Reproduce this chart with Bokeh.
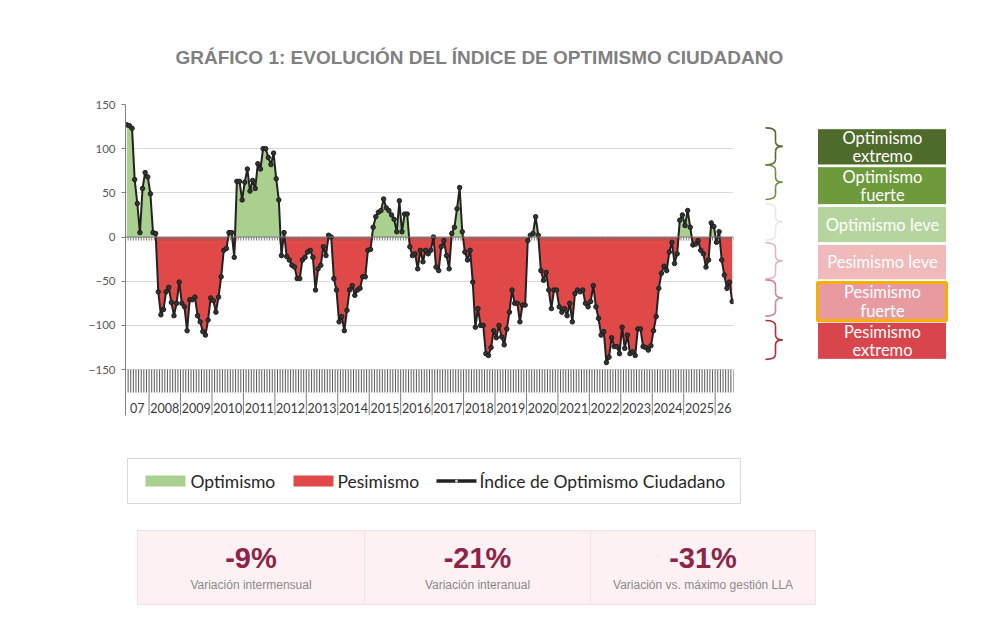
import numpy as np
from bokeh.plotting import figure
from bokeh.layouts import column, row
from bokeh.models import Range1d, FixedTicker, Span
from bokeh.core.properties import value
from bokeh.embed import file_html
from bokeh.resources import INLINE

# ---- Monthly citizen optimism index (Apr 2007 - Jul 2026) ----
idx_2007 = [127, 126, 123, 65, 38, 5, 55, 73, 68]          # Apr-Dec
idx_2008 = [49, 5, 4, -62, -88, -82, -62, -57, -74, -89, -75, -51]
idx_2009 = [-75, -79, -106, -71, -71, -68, -89, -96, -107, -111, -94, -69]
idx_2010 = [-72, -85, -68, -45, -15, -13, 5, 5, -23, 63, 63, 42]
idx_2011 = [62, 77, 52, 64, 55, 83, 77, 100, 100, 90, 82, 95]
idx_2012 = [66, 42, -21, 5, -22, -26, -32, -34, -47, -47, -26, -23]
idx_2013 = [-17, -15, -23, -60, -36, -32, -11, -21, 2, 0, -47, -60]
idx_2014 = [-96, -90, -106, -83, -60, -55, -66, -60, -58, -45, -45, -15]
idx_2015 = [-14, 11, 23, 28, 30, 43, 33, 30, 25, 20, 6, 41]
idx_2016 = [6, 26, 26, -11, -21, -19, -36, -15, -28, -15, -19, -15]
idx_2017 = [0, -34, -38, -11, -4, -21, -36, 4, 11, 32, 56, 6]
idx_2018 = [-17, -26, -15, -51, -102, -81, -100, -100, -132, -134, -125, -106]
idx_2019 = [-114, -100, -113, -122, -104, -85, -60, -75, -75, -96, -77, -77]
idx_2020 = [-4, 2, 4, 23, 2, -38, -49, -40, -60, -81, -60, -60]
idx_2021 = [-79, -85, -81, -89, -75, -96, -64, -60, -62, -60, -75, -79]
idx_2022 = [-73, -55, -79, -92, -111, -107, -142, -136, -114, -124, -124, -132]
idx_2023 = [-102, -126, -111, -132, -130, -134, -104, -104, -124, -125, -128, -123]
idx_2024 = [-106, -90, -58, -41, -33, -38, -17, -6, -30, -19, 19, 25]
idx_2025 = [13, 30, 11, -9, -8, -4, -15, -19, -34, -26, 16, 12]
idx_2026 = [-6, 6, -26, -43, -58, -51, -73]                # Jan-Jul

year_labels = ["07", "2008", "2009", "2010", "2011", "2012", "2013", "2014",
               "2015", "2016", "2017", "2018", "2019", "2020", "2021", "2022",
               "2023", "2024", "2025", "26"]
yearly = [idx_2007, idx_2008, idx_2009, idx_2010, idx_2011, idx_2012, idx_2013,
          idx_2014, idx_2015, idx_2016, idx_2017, idx_2018, idx_2019, idx_2020,
          idx_2021, idx_2022, idx_2023, idx_2024, idx_2025, idx_2026]

y_ticks = [-150, -100, -50, 0, 50, 100, 150]

scale_names = [["Optimismo", "extremo"], ["Optimismo", "fuerte"], ["Optimismo leve"],
               ["Pesimismo leve"], ["Pesimismo", "fuerte"], ["Pesimismo", "extremo"]]

kpi_values = ["-9%", "-21%", "-31%"]
kpi_labels = ["Variación intermensual", "Variación interanual",
              "Variación vs. máximo gestión LLA"]

title_text = "GRÁFICO 1: EVOLUCIÓN DEL ÍNDICE DE OPTIMISMO CIUDADANO"

# ---- derived series ----
vals = np.array([v for yr in yearly for v in yr], dtype=float)
n = len(vals)
xc = np.arange(n) + 0.5
counts = [len(yr) for yr in yearly]
edges = np.cumsum([0] + counts)
centers = (edges[:-1] + edges[1:]) / 2.0
month_edges = np.arange(n + 1)

GREEN = "#a9d08e"
RED = "#e14848"
CAL = value("Lato")


def blank(w, h, ymax):
    f = figure(width=w, height=h, x_range=Range1d(0, w), y_range=Range1d(ymax, 0),
               toolbar_location=None, output_backend="svg",
               x_axis_location=None, y_axis_location=None,
               min_border=0, outline_line_color=None)
    f.grid.visible = False
    return f


# ---- title strip ----
top = blank(1001, 80, 80)
top.text(x=[479], y=[57], text=[title_text], text_font=value("Liberation Sans"),
         text_font_style="bold", text_font_size="19px", text_color="#808080",
         text_align="center", text_baseline="middle")

# ---- main chart ----
p = figure(width=745, height=360, x_range=Range1d(0, n), y_range=Range1d(-202, 150),
           toolbar_location=None, output_backend="svg", x_axis_location=None,
           min_border_left=125, min_border_right=12, min_border_top=24,
           min_border_bottom=25, outline_line_color=None)
p.xgrid.visible = False
p.yaxis.ticker = FixedTicker(ticks=y_ticks)
p.ygrid.ticker = FixedTicker(ticks=y_ticks)
p.ygrid.grid_line_color = "#d9d9d9"
p.yaxis.axis_line_color = "#7f7f7f"
p.yaxis.major_tick_line_color = "#7f7f7f"
p.yaxis.major_tick_out = 4
p.yaxis.major_tick_in = 0
p.yaxis.minor_tick_line_color = None
p.yaxis.major_label_text_font = "Lato"
p.yaxis.major_label_text_font_size = "11.5px"
p.yaxis.major_label_text_color = "#595959"
p.yaxis.major_label_standoff = 6

p.varea(x=xc, y1=0, y2=np.maximum(vals, 0), fill_color=GREEN)
p.varea(x=xc, y1=0, y2=np.minimum(vals, 0), fill_color=RED)

# category axis crossing at zero, with a tick between months
p.add_layout(Span(location=0, dimension="width", line_color="#7f7f7f", line_width=1))
p.segment(x0=month_edges, y0=0, x1=month_edges, y1=-4,
          line_color="#6a6a6a", line_alpha=0.85, line_width=1)

# month tick band and year label row below the plot
p.segment(x0=month_edges, y0=-150, x1=month_edges, y1=-176,
          line_color="#5a5a5a", line_width=1)
p.segment(x0=edges[1:-1], y0=-176, x1=edges[1:-1], y1=-202,
          line_color="#7f7f7f", line_width=1)
p.text(x=centers, y=-193.5, text=year_labels, text_font=CAL, text_font_size="12.5px",
       text_color="#3a3a3a", text_align="center", text_baseline="middle")

p.line(xc, vals, line_color="#222222", line_width=2)
p.scatter(xc, vals, size=4.5, fill_color="#333333", line_color="#1e1e1e", line_width=1)

# ---- scale boxes with braces ----
side = blank(256, 360, 360)
box_tops = [28, 72, 118, 162, 206, 252]
box_bots = [70, 116, 160, 203, 250, 295]
box_cols = ["#4f6b2c", "#6e9a3c", "#b6d59e", "#f0b9ba", "#e79ba0", "#d8454c"]
side.quad(left=72, right=201, top=box_tops, bottom=box_bots, fill_color=box_cols,
          line_color="white", line_width=1)
# highlight on the current category
side.quad(left=[72], right=[201], top=[206], bottom=[250], fill_color=None,
          line_color="#f5b000", line_width=3)
for name, t, b in zip(scale_names, box_tops, box_bots):
    mid = (t + b) / 2.0
    if len(name) == 1:
        ys = [mid]
    else:
        ys = [mid - 10.5, mid + 10.5]
    side.text(x=[137] * len(name), y=ys, text=name, text_font=CAL,
              text_font_size="16.5px", text_color="white", text_align="center",
              text_baseline="middle")

brace_spans = [(27, 70), (70, 110), (115, 157), (160, 202), (203, 245), (250, 295)]
brace_cols = ["#556a2c", "#6f8e3e", "#e6ebdc", "#e2b6bc", "#c98892", "#a8303a"]
bx0, bx1, bx2, r = 20, 30, 37, 6
for (yt, yb), c in zip(brace_spans, brace_cols):
    ym = (yt + yb) / 2.0
    side.quadratic(x0=[bx0, bx1, bx2, bx1], y0=[yt, ym - r, ym, yb - r],
                   x1=[bx1, bx2, bx1, bx0], y1=[yt + r, ym, ym + r, yb],
                   cx=[bx1, bx1, bx1, bx1], cy=[yt, ym, ym, yb],
                   line_color=c, line_width=1.6)
    side.segment(x0=[bx1, bx1], y0=[yt + r, ym + r], x1=[bx1, bx1], y1=[ym - r, yb - r],
                 line_color=c, line_width=1.6)

# ---- legend and indicator cards ----
bot = blank(1001, 181, 181)
bot.quad(left=[127], right=[740], top=[18], bottom=[63], fill_color="white",
         line_color="#d9d9d9", line_width=1)
bot.quad(left=[145, 293], right=[185, 333], top=[35, 35], bottom=[46, 46],
         fill_color=[GREEN, RED], line_color=None)
bot.segment(x0=[436], y0=[40.5], x1=[476], y1=[40.5], line_color="#222222", line_width=3.5)
bot.scatter(x=[456], y=[40.5], size=3, fill_color="#d0d0d0", line_color=None)
bot.text(x=[190, 337, 479], y=[40.5, 40.5, 40.5],
         text=["Optimismo", "Pesimismo", "Índice de Optimismo Ciudadano"],
         text_font=CAL, text_font_size="17.5px", text_color="#262626",
         text_align="left", text_baseline="middle")

card_l = [137, 364, 590]
card_r = [364, 590, 815]
bot.quad(left=card_l, right=card_r, top=[90] * 3, bottom=[164] * 3,
         fill_color="#fdf1f4", line_color="#f6e0e6", line_width=1)
card_c = [(a + b) / 2.0 for a, b in zip(card_l, card_r)]
bot.text(x=card_c, y=[117] * 3, text=kpi_values, text_font=value("Liberation Sans"),
         text_font_style="bold", text_font_size="29px", text_color="#8c2548",
         text_align="center", text_baseline="middle")
bot.text(x=card_c, y=[144] * 3, text=kpi_labels, text_font=value("Liberation Sans"),
         text_font_size="12px", text_color="#8a8a8a",
         text_align="center", text_baseline="middle")

layout = column(top, row(p, side, spacing=0), bot, spacing=0)
open("out.html", "w").write(file_html(layout, INLINE))
